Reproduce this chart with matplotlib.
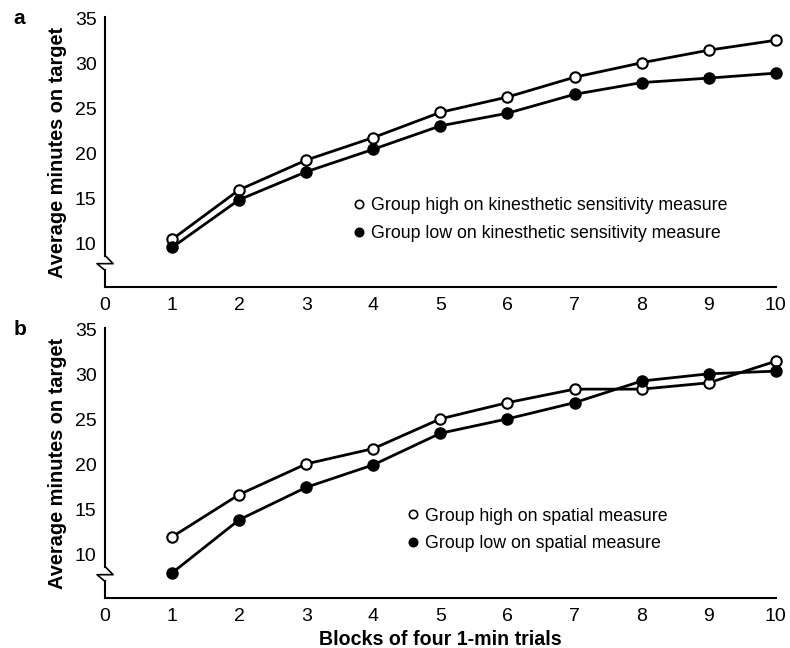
import numpy as np
import matplotlib.pyplot as plt
from matplotlib.lines import Line2D

plt.rcParams['font.family'] = ['Liberation Sans', 'DejaVu Sans']

blocks = [1, 2, 3, 4, 5, 6, 7, 8, 9, 10]

# panel a : kinesthetic sensitivity
kin_high = [10.5, 16.0, 19.3, 21.8, 24.6, 26.3, 28.5, 30.1, 31.5, 32.6]
kin_low = [9.6, 14.9, 18.0, 20.5, 23.1, 24.5, 26.6, 27.9, 28.4, 28.95]

# panel b : spatial measure
spa_high = [12.0, 16.7, 20.1, 21.8, 25.1, 26.9, 28.4, 28.4, 29.1, 31.5]
spa_low = [8.0, 13.9, 17.5, 20.0, 23.5, 25.1, 26.9, 29.3, 30.1, 30.4]

yticks = [10, 15, 20, 25, 30, 35]
xticks = [0, 1, 2, 3, 4, 5, 6, 7, 8, 9, 10]

fig = plt.figure(figsize=(7.9, 6.48), dpi=100)
ax_a = fig.add_axes([0.133, 0.557, 0.849, 0.417])
ax_b = fig.add_axes([0.133, 0.077, 0.849, 0.417])


def draw_panel(ax, high, low, lab_high, lab_low, leg_pos, letter):
    ax.plot(blocks, high, color='black', lw=2, marker='o', ms=7.5,
            mfc='white', mec='black', mew=1.5, clip_on=False, zorder=3)
    ax.plot(blocks, low, color='black', lw=2, marker='o', ms=7.5,
            mfc='black', mec='black', mew=1.5, clip_on=False, zorder=3)
    ax.set_xlim(0, 10)
    ax.set_ylim(5.2, 35.2)
    ax.set_xticks(xticks)
    ax.set_yticks(yticks)
    ax.tick_params(length=0, labelsize=14)
    ax.tick_params(axis='x', pad=7)
    ax.tick_params(axis='y', pad=6)
    for s in ['top', 'right', 'left']:
        ax.spines[s].set_visible(False)
    ax.spines['bottom'].set_linewidth(1.5)
    # left axis with break
    k = 0.12
    ax.plot([0, 0], [35.2, 8.7], color='black', lw=1.5, clip_on=False)
    ax.plot([0, k, -k, 0], [8.7, 7.8, 7.8, 7.05], color='black', lw=1.2, clip_on=False)
    ax.plot([0, 0], [7.05, 5.2], color='black', lw=1.5, clip_on=False)
    ax.set_ylabel('Average minutes on target', fontsize=14.4, fontweight='bold', labelpad=6)
    handles = [Line2D([], [], ls='none', marker='o', ms=6, mfc='white', mec='black', mew=1.2),
               Line2D([], [], ls='none', marker='o', ms=6, mfc='black', mec='black', mew=1.2)]
    ax.legend(handles, [lab_high, lab_low], loc='upper left', bbox_to_anchor=leg_pos,
              frameon=False, fontsize=12.8, handlelength=0.6, handletextpad=0.4,
              labelspacing=0.6, borderaxespad=0)
    ax.text(-0.137, 0.995, letter, transform=ax.transAxes, fontsize=15,
            fontweight='bold', va='center', ha='left')


draw_panel(ax_a, kin_high, kin_low,
           'Group high on kinesthetic sensitivity measure',
           'Group low on kinesthetic sensitivity measure',
           (0.36, 0.358), 'a')
draw_panel(ax_b, spa_high, spa_low,
           'Group high on spatial measure',
           'Group low on spatial measure',
           (0.44, 0.361), 'b')
ax_b.set_xlabel('Blocks of four 1-min trials', fontsize=14.1, fontweight='bold', labelpad=4)

fig.savefig('out.png', dpi=100)
